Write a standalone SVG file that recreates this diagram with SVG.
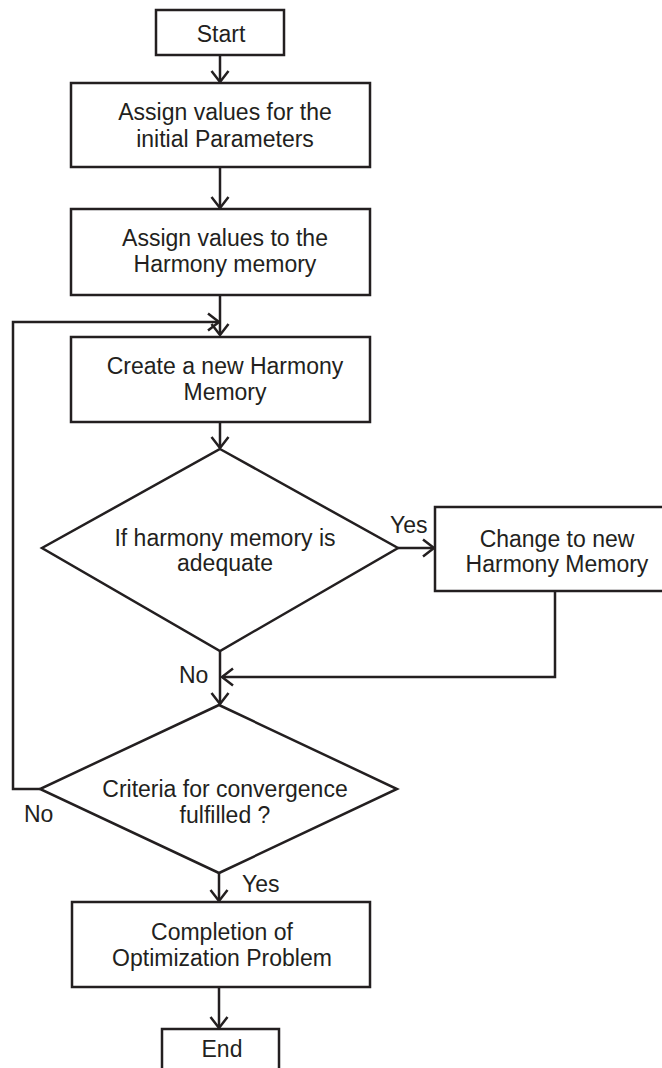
<svg xmlns="http://www.w3.org/2000/svg" width="662" height="1068" viewBox="0 0 662 1068">
<style>
.box{fill:#fff;stroke:#231f20;stroke-width:2.5}
.ln{fill:none;stroke:#231f20;stroke-width:2.5}
text{font-family:"Liberation Sans",Arial,sans-serif;font-size:23px;fill:#231f20;text-anchor:middle}
.lbl{text-anchor:start}
</style>
<defs>
<marker id="arr" markerUnits="userSpaceOnUse" markerWidth="20" markerHeight="20" viewBox="-14 -10 16 20" refX="0" refY="0" orient="auto">
<path d="M-11,-8.5 L0,0 L-11,8.5" fill="none" stroke="#231f20" stroke-width="2.5"/>
</marker>
</defs>
<rect width="662" height="1068" fill="#fff"/>
<g id="connectors">
<line class="ln" x1="220" y1="55" x2="220" y2="82" marker-end="url(#arr)"/>
<line class="ln" x1="220" y1="167" x2="220" y2="208" marker-end="url(#arr)"/>
<line class="ln" x1="220" y1="295" x2="220" y2="335" marker-end="url(#arr)"/>
<polyline class="ln" points="40,789 13,789 13,322 219,322" marker-end="url(#arr)"/>
<line class="ln" x1="220" y1="422" x2="220" y2="448" marker-end="url(#arr)"/>
<line class="ln" x1="398" y1="548" x2="434" y2="548" marker-end="url(#arr)"/>
<polyline class="ln" points="555,591 555,677 222,677" marker-end="url(#arr)"/>
<line class="ln" x1="220" y1="651" x2="220" y2="704" marker-end="url(#arr)"/>
<line class="ln" x1="219" y1="873" x2="219" y2="901" marker-end="url(#arr)"/>
<line class="ln" x1="219" y1="987" x2="219" y2="1028" marker-end="url(#arr)"/>
<text class="lbl" x="390" y="533">Yes</text>
<text class="lbl" x="179" y="683">No</text>
<text class="lbl" x="24" y="822">No</text>
<text class="lbl" x="242" y="892">Yes</text>
</g>
<g id="start">
<rect class="box" x="156" y="10" width="128" height="45"/>
<text x="221" y="42">Start</text>
</g>
<g id="init-params">
<rect class="box" x="71" y="83" width="299" height="84"/>
<text x="225" y="120">Assign values for the</text>
<text x="225" y="147">initial Parameters</text>
</g>
<g id="assign-hm">
<rect class="box" x="71" y="209" width="299" height="86"/>
<text x="225" y="246">Assign values to the</text>
<text x="225" y="272">Harmony memory</text>
</g>
<g id="create-hm">
<rect class="box" x="71" y="337" width="299" height="85"/>
<text x="225" y="374">Create a new Harmony</text>
<text x="225" y="400">Memory</text>
</g>
<g id="adequate">
<polygon class="box" points="220,449 398,548 220,651 42,548"/>
<text x="225" y="546">If harmony memory is</text>
<text x="225" y="571">adequate</text>
</g>
<g id="change-hm">
<rect class="box" x="435" y="507" width="250" height="84"/>
<text x="557" y="547">Change to new</text>
<text x="557" y="572">Harmony Memory</text>
</g>
<g id="convergence">
<polygon class="box" points="219,705 397,789 219,873 40,789"/>
<text x="225" y="797">Criteria for convergence</text>
<text x="225" y="823">fulfilled ?</text>
</g>
<g id="completion">
<rect class="box" x="72" y="902" width="298" height="85"/>
<text x="222" y="940">Completion of</text>
<text x="222" y="966">Optimization Problem</text>
</g>
<g id="end">
<rect class="box" x="162" y="1029" width="117" height="50"/>
<text x="222" y="1057">End</text>
</g>
</svg>
